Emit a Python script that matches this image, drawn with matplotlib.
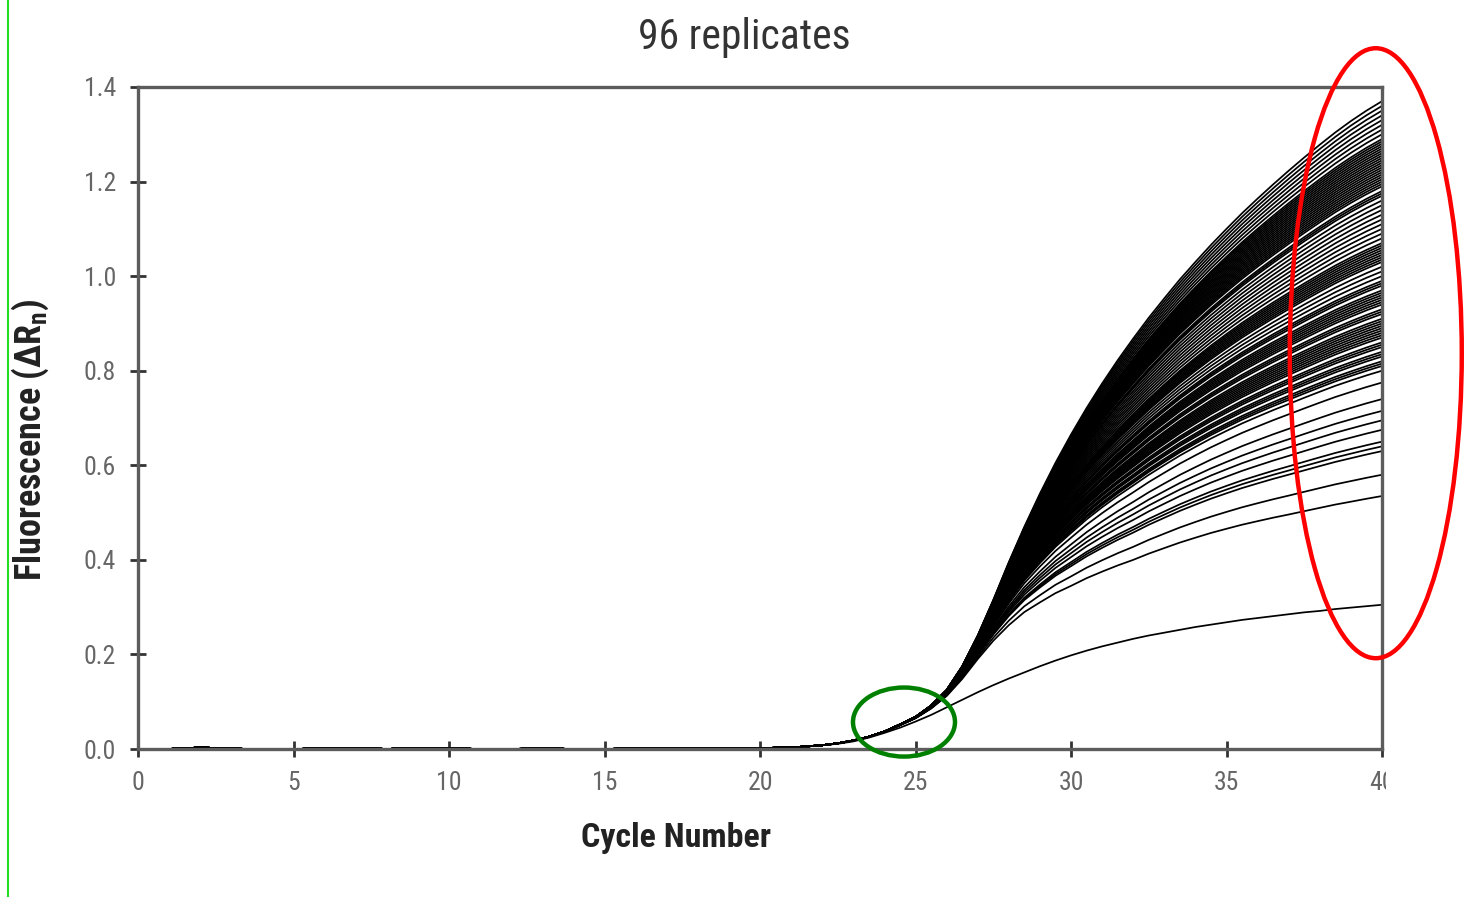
import matplotlib
matplotlib.use("Agg")
import matplotlib.pyplot as plt
from matplotlib.patches import Ellipse, Rectangle
from matplotlib.lines import Line2D
import numpy as np

# cycle positions (half cycles where the curves rise)
read_cycles = list(range(1, 23)) + [22.5 + 0.5 * i for i in range(36)]

baseline = [0.0, 0.003, 0.001, -0.001, 0.0, 0.001, 0.002, 0.0, 0.002, 0.001,
            0.0, 0.0, 0.001, 0.0, 0.0, 0.001, 0.001, 0.002, 0.002, 0.002,
            0.003, 0.008]

# highest replicate (the upper edge of the bundle)
top_curve = baseline + [
    0.012, 0.018, 0.026, 0.037, 0.052, 0.068, 0.092, 0.125, 0.175, 0.24,
    0.315, 0.395, 0.47, 0.54, 0.605, 0.665, 0.721, 0.773, 0.822, 0.868,
    0.912, 0.953, 0.993, 1.03, 1.066, 1.10, 1.133, 1.164, 1.194, 1.223,
    1.251, 1.278, 1.304, 1.328, 1.35, 1.37]

# the one low replicate that ends near 0.3
lowest_curve = baseline + [
    0.011, 0.016, 0.024, 0.034, 0.045, 0.058, 0.072, 0.088, 0.104, 0.12,
    0.135, 0.149, 0.162, 0.175, 0.187, 0.198, 0.208, 0.217, 0.225, 0.233,
    0.24, 0.246, 0.252, 0.258, 0.263, 0.268, 0.273, 0.277, 0.281, 0.285,
    0.289, 0.292, 0.296, 0.299, 0.302, 0.305]

# how far the other replicates have split off the top curve
# (0 = still together, 1 = at their own end value)
split = [0.0] * 22 + [
    0.005, 0.01, 0.018, 0.027, 0.037, 0.048, 0.078, 0.117, 0.178, 0.248,
    0.34, 0.437, 0.515, 0.59, 0.646, 0.698, 0.735, 0.769, 0.798, 0.824,
    0.842, 0.859, 0.874, 0.888, 0.901, 0.914, 0.926, 0.938, 0.949, 0.96,
    0.969, 0.977, 0.984, 0.991, 0.996, 1.0]

# fluorescence of the other replicates at cycle 40, read from the right edge
end_low = [0.535, 0.580, 0.630, 0.640, 0.650, 0.675, 0.695, 0.715,
           0.740, 0.775, 0.800]
end_high = [0.81, 0.815, 0.82, 0.83, 0.835, 0.84, 0.85, 0.855, 0.86, 0.87, 0.875,
            0.88, 0.885, 0.89, 0.895, 0.90, 0.905, 0.91, 0.92, 0.925, 0.93, 0.94,
            0.945, 0.95, 0.955, 0.96, 0.965, 0.97, 0.98, 0.985, 0.99, 1.00, 1.01,
            1.02, 1.03, 1.035, 1.04, 1.045, 1.05, 1.055, 1.06, 1.065, 1.07, 1.08,
            1.09, 1.10, 1.11, 1.12, 1.13, 1.14, 1.15, 1.16, 1.17, 1.175,
            1.18, 1.19, 1.195, 1.20, 1.205, 1.21, 1.215, 1.22, 1.225, 1.23,
            1.235, 1.24, 1.245, 1.25, 1.255, 1.26, 1.265, 1.27, 1.275, 1.28,
            1.285, 1.29, 1.30, 1.31, 1.32, 1.33, 1.34, 1.35, 1.36, 1.37]
end_values = end_low + end_high

xticks = [0, 5, 10, 15, 20, 25, 30, 35, 40]
yticks = [0.0, 0.2, 0.4, 0.6, 0.8, 1.0, 1.2, 1.4]
ytick_labels = ["0.0", "0.2", "0.4", "0.6", "0.8", "1.0", "1.2", "1.4"]

plt.rcParams["font.family"] = ["Roboto Condensed", "Liberation Sans Narrow",
                               "Roboto", "DejaVu Sans"]

W, H = 1464, 897
fig = plt.figure(figsize=(W / 100, H / 100), dpi=100)
ax = fig.add_axes([138 / W, 1 - 749 / H, (1382 - 138) / W, (749 - 87) / H])

top = np.array(top_curve)
w = np.array(split)
for v in end_values:
    ax.plot(read_cycles, top * (v / top[-1]) ** w, color="black", lw=1.25)
ax.plot(read_cycles, lowest_curve, color="black", lw=1.25)

ax.set_xlim(0, 40)
ax.set_ylim(0, 1.4)
ax.set_xticks(xticks)
ax.set_yticks(yticks)
ax.set_yticklabels(ytick_labels)
for s in ax.spines.values():
    s.set_color("#5c5c5c")
    s.set_linewidth(2.4)
ax.tick_params(direction="inout", length=12, width=2, color="#333333",
               labelcolor="#666666", labelsize=18.5)
ax.tick_params(axis="y", pad=10)
ax.tick_params(axis="x", pad=10)

fig.text(744 / W, 1 - 37 / H, "96 replicates", ha="center", va="center",
         fontsize=30, color="#333333")
fig.text(676 / W, 1 - 838 / H, "Cycle Number", ha="center", va="center",
         fontsize=24.5, fontweight="bold", color="#222222")
fig.text(30 / W, 1 - 440 / H, "Fluorescence (ΔR$_\\mathregular{n}$)",
         ha="center", va="center", rotation=90, fontsize=26,
         fontweight="bold", color="#222222")

# the "40" label is cut off at the right edge of the original image
fig.add_artist(Rectangle((1386 / W, 1 - 805 / H), 60 / W, 45 / H,
                         transform=fig.transFigure, facecolor="white",
                         edgecolor="none", zorder=5))

# annotation marks
ax.add_patch(Ellipse((24.63, 0.057), 3.28, 0.146, fill=False, edgecolor="#008000",
                     lw=3.2, clip_on=False, zorder=10))
ax.add_patch(Ellipse((39.8, 0.837), 5.53, 1.29, fill=False, edgecolor="#ff0000",
                     lw=3.2, clip_on=False, zorder=10))
fig.add_artist(Line2D([8 / W, 8 / W], [0, 1], transform=fig.transFigure,
                      color="#22dd22", lw=1.5))

fig.savefig("out.png", dpi=100)
plt.close(fig)
